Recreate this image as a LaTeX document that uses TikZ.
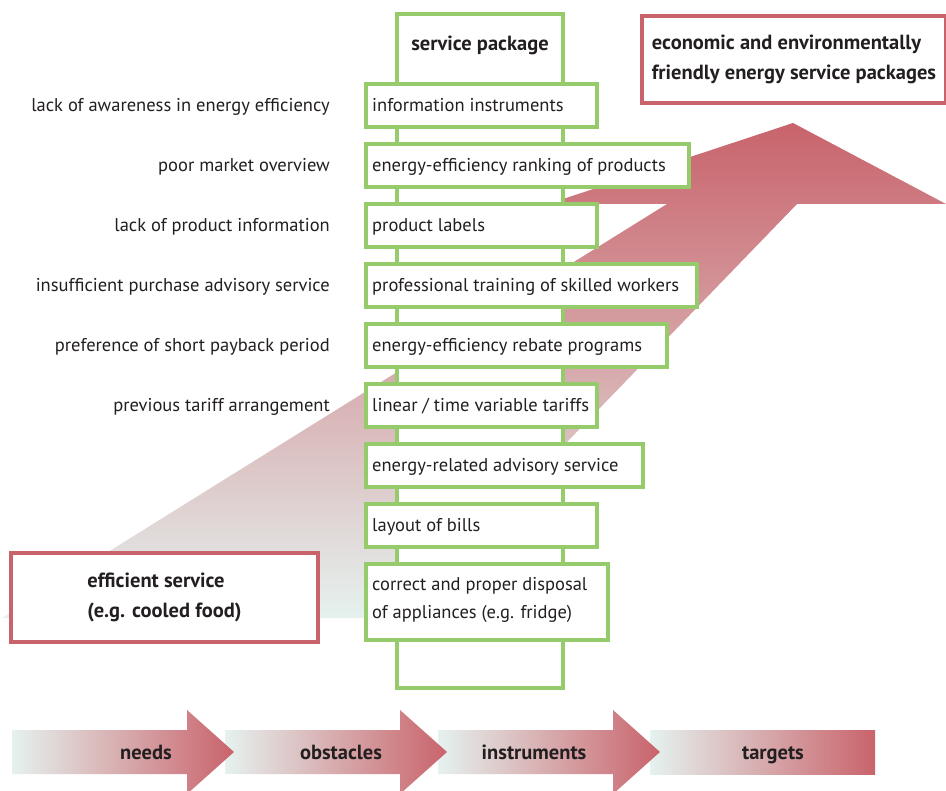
\documentclass[tikz,border=0pt]{standalone}
\usepackage{fontspec}
\setmainfont{PT Sans}
\usetikzlibrary{positioning}
\definecolor{pkg}{HTML}{96CB6C}
\definecolor{aim}{HTML}{C9636B}
\definecolor{mid}{HTML}{D6A3A3}
\definecolor{fade}{HTML}{E5F2EF}
\definecolor{ink}{HTML}{231F20}

\begin{document}
\begin{tikzpicture}[x=1pt, y=-1pt,
  font=\fontsize{18.5}{28}\selectfont, text=ink,
  inst/.style={draw=pkg, line width=4pt, fill=white, anchor=north west, inner sep=0pt},
  insttxt/.style={anchor=west, align=left, inner xsep=8pt, inner ysep=0pt, execute at begin node=\strut},
  need/.style={anchor=east, inner sep=0pt, text height=13pt, text depth=4pt},
  goal/.style={draw=aim, line width=4pt, fill=white, align=left, font=\fontsize{20.5}{30}\selectfont\bfseries},
  phase/.style={font=\fontsize{20.5}{22}\selectfont\bfseries, text height=14pt, text depth=5pt},
]
\useasboundingbox[fill=white] (0,0) rectangle (946,791);

% ---------------- big rising arrow
\shade[top color=aim, middle color=mid, bottom color=fade]
  (2,618) -- (667,204) -- (548,204) -- (793,123) -- (946,204) -- (797,204) -- (397,618) -- cycle;

% ---------------- service package column
\draw[draw=pkg, line width=4pt, fill=white] (397,14) rectangle (563,688);
\node[phase] (pack) at (480,46) {service package};

\foreach \i/\w/\h/\txt in {
  1/231/43/{information instruments},
  2/323/43/{energy-efficiency ranking of products},
  3/231/43/{product labels},
  4/331/43/{professional training of skilled workers},
  5/301/43/{energy-efficiency rebate programs},
  6/231/43/{linear / time variable tariffs},
  7/277/43/{energy-related advisory service},
  8/231/43/{layout of bills},
  9/242/76/{correct and proper disposal\\of appliances (e.g. fridge)}}
{
  \node[inst, minimum width=\w, minimum height=\h] (inst\i) at (364,22+60*\i) {};
  \node[insttxt] (txt\i) at (inst\i.west) {\txt};
}

% ---------------- obstacles
\foreach \i/\txt in {
  1/{lack of awareness in energy efficiency},
  2/{poor market overview},
  3/{lack of product information},
  4/{insufficient purchase advisory service},
  5/{preference of short payback period},
  6/{previous tariff arrangement}}
  \node[need] (need\i) at (330,47+60*\i) {\txt};

% ---------------- start and goal
\node[goal, minimum width=307, minimum height=89, anchor=north west] (effic) at (9,551)
  {efficient service\\(e.g. cooled food)};
\node[goal, minimum width=304, minimum height=87, anchor=north west] (eco) at (640,14)
  {economic and environmentally\\friendly energy service packages};

% ---------------- phases
\shade[left color=fade, right color=aim] (650,730) rectangle (875,774);
\foreach \x in {426,213,0}
  \shade[left color=fade, right color=aim] (12+\x,730) -- (187+\x,730) -- (187+\x,710)
    -- (234+\x,752) -- (187+\x,794) -- (187+\x,774) -- (12+\x,774) -- cycle;
\node[phase] (needs)   at (146,755) {needs};
\node[phase] (obst)    at (341,755) {obstacles};
\node[phase] (instr)   at (534,755) {instruments};
\node[phase] (targets) at (773,755) {targets};

\end{tikzpicture}
\end{document}
